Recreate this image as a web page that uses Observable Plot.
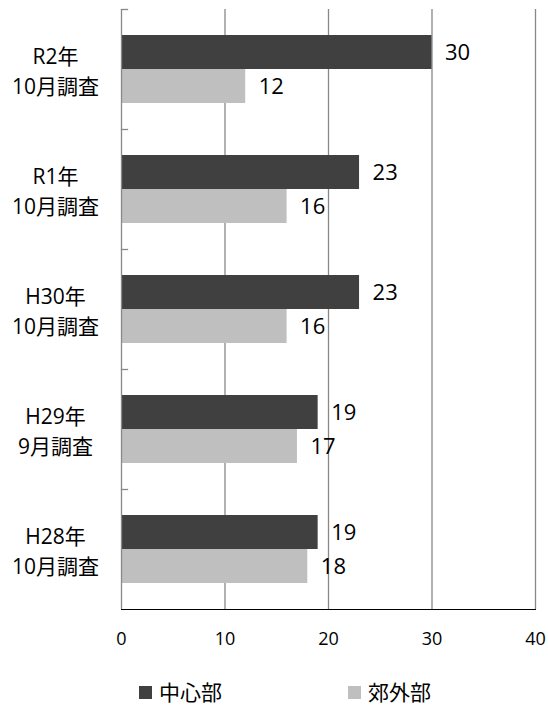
<!DOCTYPE html>
<html>
<head>
<meta charset="utf-8">
<script src="https://cdn.jsdelivr.net/npm/d3@7"></script>
<script src="https://cdn.jsdelivr.net/npm/@observablehq/plot@0.6"></script>
<style>
  body { margin: 0; background: #fff; font-family: "Open Sans", "Noto Sans CJK JP", sans-serif; }
  #legend { position: relative; height: 46px; }
  .item { position: absolute; top: 22px; display: flex; align-items: center; font-size: 21px; line-height: 21px; color: #000; }
  .sw { width: 13px; height: 13px; margin-right: 7px; }
</style>
</head>
<body>
<div id="chart"></div>
<div id="legend"></div>
<script>
const periods = ["R2年", "R1年", "H30年", "H29年", "H28年"];
const surveys = ["10月調査", "10月調査", "10月調査", "9月調査", "10月調査"];
const seriesNames = ["中心部", "郊外部"];
const central = [30, 23, 23, 19, 19];
const suburban = [12, 16, 16, 17, 18];
const xTicks = [0, 10, 20, 30, 40];
const colors = ["#404040", "#bfbfbf"];

const cats = periods.map((p, i) => p + "\n" + surveys[i]);
const rows = [];
cats.forEach((c, i) => {
  rows.push({cat: c, series: seriesNames[0], value: central[i]});
  rows.push({cat: c, series: seriesNames[1], value: suburban[i]});
});

const chart = Plot.plot({
  width: 548,
  height: 660,
  marginLeft: 121,
  marginRight: 13,
  marginTop: 8,
  marginBottom: 51,
  style: { fontFamily: '"Open Sans", "Noto Sans CJK JP", sans-serif', fontSize: "18px", background: "#fff" },
  x: { domain: [0, 40], ticks: xTicks, tickSize: 0, tickPadding: 23, line: true, label: null },
  y: { domain: seriesNames, paddingInner: 0, paddingOuter: 0.74, axis: null },
  fy: { domain: cats, padding: 0, axis: null },
  color: { domain: seriesNames, range: colors },
  marks: [
    Plot.ruleX(xTicks.slice(1), { stroke: "#888", strokeWidth: 1.3 }),
    Plot.barX(rows, { fy: "cat", y: "series", x: "value", fill: "series" }),
    Plot.ruleX([0], { stroke: "#888", strokeWidth: 1.3 }),
    Plot.frame({ anchor: "top", insetRight: 548 - 121 - 13 - 6, stroke: "#888", strokeWidth: 1.3 }),
    Plot.text(rows, { fy: "cat", y: "series", x: "value", text: d => String(d.value), textAnchor: "start", dx: 13, fontSize: 22, fill: "#000" }),
    Plot.text(cats, { fy: d => d, text: d => d, frameAnchor: "left", dx: -66, textAnchor: "middle", lineHeight: 1.45, fontSize: 21, fill: "#000" })
  ]
});
document.getElementById("chart").appendChild(chart);

const legend = document.getElementById("legend");
const lefts = [139, 348];
seriesNames.forEach((s, i) => {
  const it = document.createElement("div");
  it.className = "item";
  it.style.left = lefts[i] + "px";
  it.innerHTML = `<span class="sw" style="background:${colors[i]}"></span><span>${s}</span>`;
  legend.appendChild(it);
});
</script>
</body>
</html>
